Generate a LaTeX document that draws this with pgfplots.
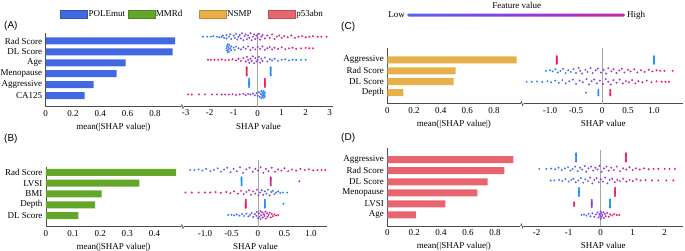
\documentclass[border=0pt]{standalone}
\usepackage{pgfplots}
\pgfplotsset{compat=1.18}
\usepackage{fontspec}
\setmainfont{Liberation Serif}
\newfontfamily\panelfont{Liberation Sans}
\definecolor{cA}{HTML}{4169E1}
\definecolor{cB}{HTML}{63A62A}
\definecolor{cC}{HTML}{E9B04A}
\definecolor{cD}{HTML}{E8646F}
\definecolor{cbBlue}{RGB}{30,140,250}
\definecolor{cbMid}{RGB}{140,60,225}
\definecolor{cbRed}{RGB}{250,20,90}
\pgfdeclarehorizontalshading{shapcb}{100bp}{color(0bp)=(cbBlue); color(50bp)=(cbMid); color(100bp)=(cbRed)}
\newcommand\fs{\fontsize{9}{10}\selectfont}
\pgfplotsset{
  colormap={shap}{rgb255=(30,140,250) rgb255=(140,60,225) rgb255=(250,20,90)},
  base/.style={scale only axis, axis line style={-, black!70, line width=0.6pt}, major tick length=0pt, tick style={draw=none}, ticklabel style={font=\fs}, label style={font=\fs}, /pgf/number format/assume math mode=true},
  barax/.style={base, ymin=-1, anchor=south west, axis x line*=bottom, axis y line*=left, xmin=0, xbar, bar width=7pt, xtick={0,0.2,0.4,0.6,0.8}, xticklabels={0,0.2,0.4,0.6,0.8}, xlabel={mean(|SHAP value|)}, clip=false},
  swax/.style={base, anchor=south west, axis x line*=bottom, axis y line=none, ymajorgrids, grid style={densely dotted, black!25}, yticklabels={}, xlabel={SHAP value}, colormap name=shap, point meta min=0, point meta max=1},
  swarm/.style={scatter, only marks, mark=*, mark size=1.1pt, point meta=explicit, scatter/use mapped color={draw opacity=0, fill=mapped color}},
}
\begin{document}
\begin{tikzpicture}
\path[use as bounding box] (0pt,0pt) rectangle (685pt,-250pt);

% ---------- legend ----------
\begin{axis}[at={(60pt,-14pt)}, anchor=west, hide axis, scale only axis, width=10pt, height=10pt, xmin=0, xmax=1, ymin=0, ymax=1,
  legend columns=4,
  legend style={at={(0,0.5)}, anchor=west, draw=none, fill=none, font=\fs, inner sep=0pt, nodes={inner sep=1pt}, column sep=0pt},
  legend image code/.code={\filldraw[#1] (0pt,-4pt) rectangle (27pt,4pt);}]
\addlegendimage{fill=cA, draw=cA!80!black, line width=0.3pt}
\addlegendentry{\makebox[38pt][l]{POLEmut}}
\addlegendimage{fill=cB, draw=cB!80!black, line width=0.3pt}
\addlegendentry{\makebox[42pt][l]{MMRd}}
\addlegendimage{fill=cC, draw=cC!80!black, line width=0.3pt}
\addlegendentry{\makebox[40pt][l]{NSMP}}
\addlegendimage{fill=cD, draw=cD!80!black, line width=0.3pt}
\addlegendentry{p53abn}
\end{axis}

% ---------- colorbar ----------
\node[font=\fs] at (516.7pt,-5pt) {Feature value};
\node[font=\fs, anchor=east, inner sep=1pt] at (406pt,-15pt) {Low};
\node[font=\fs, anchor=west, inner sep=1pt] at (626pt,-15pt) {High};
\shade[shading=shapcb, rounded corners=1.5pt] (407pt,-16.5pt) rectangle (625pt,-13.5pt);

% ---------- panel labels ----------
\node[font=\panelfont\fontsize{10}{11}\selectfont, anchor=west, inner sep=0pt] at (4pt,-26pt) {(A)};
\node[font=\panelfont\fontsize{10}{11}\selectfont, anchor=west, inner sep=0pt] at (341pt,-26.7pt) {(C)};
\node[font=\panelfont\fontsize{10}{11}\selectfont, anchor=west, inner sep=0pt] at (4pt,-139pt) {(B)};
\node[font=\panelfont\fontsize{10}{11}\selectfont, anchor=west, inner sep=0pt] at (341pt,-138.3pt) {(D)};

% ================= Panel A =================
\begin{axis}[barax, at={(45.7pt,-106.5pt)}, width=135.3pt, height=73.5pt, xmax=0.991, ymax=5.73,
  ytick={0,...,5}, yticklabels={CA125,Aggressive,Menopause,Age,DL Score,Rad Score}]
\addplot[draw=none, fill=cA] coordinates {(0.947,5) (0.930,4) (0.586,3) (0.520,2) (0.351,1) (0.285,0)};
\end{axis}
\begin{axis}[swax, at={(184pt,-106.5pt)}, width=149pt, height=73.5pt, xmin=-3.071, xmax=3.1375, ymin=-1.04, ymax=5.32,
  ytick={0,...,5}, xtick={-3,-2,-1,0,1,2,3}, xticklabels={-3,-2,-1,0,1,2,3}]
\draw[black!35, line width=0.8pt] (axis cs:0,-1.04) -- (axis cs:0,5.32);
\addplot[swarm] table[row sep=\\, meta=c] {x y c\\
-2.28 5 0.05\\ -2.1 5 0.05\\ -1.95 5 0.1\\ -1.85 5.05 0.1\\ -1.7 5 0.1\\ -1.6 4.95 0.1\\ -1.5 5 0.15\\ -1.45 5.1 0.15\\ -1.4 4.9 0.15\\ -1.3 5.15 0.2\\ -1.3 4.85 0.2\\ -1.2 5 0.2\\ -1.15 5.2 0.25\\ -1.1 4.8 0.25\\ -1.0 5.1 0.3\\ -0.95 4.9 0.3\\ -0.9 5.25 0.3\\ -0.85 4.75 0.35\\ -0.8 5 0.35\\ -0.75 5.15 0.35\\ -0.7 4.85 0.4\\ -0.65 5.3 0.4\\ -0.6 4.7 0.4\\ -0.55 5.05 0.45\\ -0.5 5.2 0.45\\ -0.45 4.8 0.45\\ -0.4 5.1 0.5\\ -0.35 4.9 0.5\\ -0.3 5.3 0.5\\ -0.25 4.7 0.5\\ -0.2 5 0.55\\ -0.15 5.2 0.55\\ -0.1 4.8 0.55\\ -0.05 5.1 0.6\\ 0 4.9 0.6\\ 0.05 5.25 0.6\\ 0.1 4.75 0.65\\ 0.15 5 0.65\\ 0.2 5.15 0.7\\ 0.3 4.85 0.7\\ 0.4 5.1 0.75\\ 0.5 4.9 0.75\\ 0.6 5.2 0.8\\ 0.7 4.8 0.8\\ 0.8 5 0.8\\ 0.9 5.1 0.85\\ 1.0 4.9 0.85\\ 1.1 5.05 0.85\\ 1.25 4.95 0.9\\ 1.4 5.1 0.9\\ 1.55 4.9 0.9\\ 1.7 5 0.95\\ 1.85 5.05 0.95\\ 2.0 4.95 0.95\\ 2.15 5 1\\ 2.3 5.05 1\\ 2.5 5 1\\ 2.65 5 1\\ 2.87 5 1\\
-1.3 4 0.1\\ -1.28 4.2 0.1\\ -1.28 3.8 0.1\\ -1.25 4.35 0.1\\ -1.25 3.65 0.1\\ -1.22 4.1 0.1\\ -1.22 3.9 0.1\\ -1.18 4.28 0.15\\ -1.18 3.72 0.15\\ -1.15 4 0.15\\ -1.1 4.15 0.15\\ -1.1 3.85 0.15\\ -1.0 4.05 0.2\\ -0.95 3.85 0.2\\ -0.9 4.15 0.25\\ -0.8 4 0.3\\ -0.7 3.9 0.3\\ -0.6 4.1 0.35\\ -0.5 3.95 0.4\\ -0.4 4.15 0.45\\ -0.3 3.85 0.5\\ -0.2 4.05 0.5\\ -0.1 3.9 0.55\\ 0 4.1 0.55\\ 0.1 3.95 0.6\\ 0.2 4.15 0.6\\ 0.3 3.85 0.65\\ 0.4 4 0.7\\ 0.5 4.1 0.7\\ 0.6 3.9 0.75\\ 0.7 4.05 0.75\\ 0.85 3.95 0.8\\ 1.0 4.08 0.85\\ 1.15 3.92 0.85\\ 1.3 4 0.9\\ 1.45 4.05 0.9\\ 1.6 3.95 0.95\\ 1.8 4 0.95\\ 2.0 4.03 1\\ 2.15 4 1\\ 2.3 4 1\\
-2.07 3 1\\ -1.95 3 1\\ -1.8 3 0.95\\ -1.65 3 0.95\\ -1.5 3.03 0.9\\ -1.35 2.97 0.9\\ -1.2 3 0.9\\ -1.05 3.05 0.85\\ -0.9 2.95 0.85\\ -0.8 3.1 0.8\\ -0.7 2.9 0.8\\ -0.6 3.15 0.75\\ -0.5 2.85 0.7\\ -0.45 3.25 0.7\\ -0.4 3 0.65\\ -0.35 2.75 0.65\\ -0.3 3.1 0.6\\ -0.25 2.9 0.6\\ -0.2 3.3 0.55\\ -0.15 2.7 0.55\\ -0.1 3.15 0.5\\ -0.05 2.85 0.5\\ 0 3 0.5\\ 0.05 3.25 0.45\\ 0.1 2.75 0.45\\ 0.15 3.1 0.4\\ 0.2 2.9 0.4\\ 0.3 3.2 0.35\\ 0.4 2.85 0.3\\ 0.5 3.05 0.3\\ 0.6 2.95 0.25\\ 0.7 3.1 0.2\\ 0.85 2.9 0.2\\ 1.0 3 0.15\\ 1.15 3.05 0.15\\ 1.3 2.95 0.1\\ 1.45 3 0.1\\ 1.6 3 0.1\\ 1.8 3 0.05\\ 2.0 3 0.05\\
-0.46 1.65 1\\ -0.46 1.75 1\\ -0.46 1.85 1\\ -0.46 1.95 1\\ -0.46 2.05 1\\ -0.46 2.15 1\\ -0.46 2.25 1\\ -0.46 2.35 1\\
0.54 1.65 0\\ 0.54 1.75 0\\ 0.54 1.85 0\\ 0.54 1.95 0\\ 0.54 2.05 0\\ 0.54 2.15 0\\ 0.54 2.25 0\\ 0.54 2.35 0\\
-0.36 0.65 0\\ -0.36 0.75 0\\ -0.36 0.85 0\\ -0.36 0.95 0\\ -0.36 1.05 0\\ -0.36 1.15 0\\ -0.36 1.25 0\\ -0.36 1.35 0\\
0.30 0.65 1\\ 0.30 0.75 1\\ 0.30 0.85 1\\ 0.30 0.95 1\\ 0.30 1.05 1\\ 0.30 1.15 1\\ 0.30 1.25 1\\ 0.30 1.35 1\\
-2.9 0 0.9\\ -2.75 0 0.9\\ -2.45 0 0.85\\ -2.2 0 0.8\\ -1.9 0 0.8\\ -1.7 0 0.75\\ -1.5 0 0.75\\ -1.35 0 0.7\\ -1.2 0 0.7\\ -1.05 0.03 0.65\\ -0.9 -0.03 0.65\\ -0.75 0 0.6\\ -0.6 0.05 0.6\\ -0.5 -0.05 0.55\\ -0.4 0.05 0.5\\ -0.3 0 0.45\\ -0.2 0.08 0.4\\ -0.12 -0.08 0.35\\ -0.05 0.12 0.3\\ 0.0 -0.12 0.25\\ 0.05 0.2 0.2\\ 0.08 -0.2 0.2\\ 0.12 0.05 0.15\\ 0.15 0.3 0.1\\ 0.15 -0.3 0.1\\ 0.18 -0.05 0.1\\ 0.2 0.2 0.05\\ 0.2 -0.2 0.05\\ 0.22 0.1 0.05\\ 0.24 -0.1 0.05\\ 0.25 0.3 0.05\\ 0.26 -0.3 0.05\\ 0.27 0 0.05\\ 0.3 0.15 0.05\\ 0.3 -0.15 0.05\\
};
\end{axis}
\draw[black!70, line width=0.6pt] (181pt,-106.5pt) -- (182pt,-104.5pt) -- (183pt,-108.5pt) -- (184pt,-106.5pt);

% ================= Panel C =================
\begin{axis}[barax, at={(387.3pt,-103.5pt)}, width=133.2pt, height=55.4pt, xmax=0.999, ymax=4.09,
  ytick={0,...,3}, yticklabels={Depth,DL Score,Rad Score,Aggressive}]
\addplot[draw=none, fill=cC] coordinates {(0.97,3) (0.513,2) (0.498,1) (0.12,0)};
\end{axis}
\begin{axis}[swax, at={(523.5pt,-103.5pt)}, width=159.5pt, height=55.4pt, xmin=-1.51, xmax=1.558, ymin=-1, ymax=4.09,
  ytick={0,...,3}, xtick={-1,-0.5,0,0.5,1}, xticklabels={-1.0,-0.5,0,0.5,1.0}]
\draw[black!35, line width=0.8pt] (axis cs:0,-1) -- (axis cs:0,4.09);
\addplot[swarm] table[row sep=\\, meta=c] {x y c\\
-0.87 2.65 1\\ -0.87 2.75 1\\ -0.87 2.85 1\\ -0.87 2.95 1\\ -0.87 3.05 1\\ -0.87 3.15 1\\ -0.87 3.25 1\\ -0.87 3.35 1\\
1.0 2.65 0\\ 1.0 2.75 0\\ 1.0 2.85 0\\ 1.0 2.95 0\\ 1.0 3.05 0\\ 1.0 3.15 0\\ 1.0 3.25 0\\ 1.0 3.35 0\\
-1.08 2 0.05\\ -1.0 2.05 0.05\\ -0.95 1.95 0.1\\ -0.9 2.15 0.1\\ -0.85 1.85 0.1\\ -0.8 2 0.15\\ -0.75 2.2 0.15\\ -0.7 1.8 0.15\\ -0.65 2.05 0.2\\ -0.6 1.9 0.2\\ -0.55 2.15 0.25\\ -0.5 1.8 0.25\\ -0.45 2.25 0.3\\ -0.42 2 0.3\\ -0.38 1.75 0.35\\ -0.32 2.1 0.35\\ -0.28 1.9 0.4\\ -0.22 2.25 0.4\\ -0.18 1.8 0.45\\ -0.12 2.05 0.45\\ -0.08 2.2 0.5\\ -0.02 1.85 0.5\\ 0.03 2.1 0.55\\ 0.08 1.75 0.55\\ 0.12 2.25 0.6\\ 0.18 1.95 0.6\\ 0.22 2.15 0.65\\ 0.28 1.8 0.65\\ 0.33 2.05 0.7\\ 0.38 2.2 0.7\\ 0.43 1.85 0.75\\ 0.5 2.1 0.75\\ 0.55 1.95 0.8\\ 0.62 2.15 0.8\\ 0.68 1.85 0.85\\ 0.75 2.05 0.85\\ 0.82 1.9 0.9\\ 0.9 2.1 0.9\\ 0.97 1.95 0.95\\ 1.05 2.05 0.95\\ 1.12 2 1\\ 1.2 2 1\\ 1.36 2 1\\
-1.45 1 0.05\\ -1.35 1 0.05\\ -1.25 1.03 0.1\\ -1.15 0.97 0.1\\ -1.05 1.05 0.1\\ -0.98 0.95 0.15\\ -0.9 1.1 0.15\\ -0.83 0.9 0.15\\ -0.76 1.15 0.2\\ -0.7 0.85 0.2\\ -0.63 1.05 0.25\\ -0.56 1.2 0.25\\ -0.5 0.8 0.3\\ -0.43 1.1 0.3\\ -0.37 0.95 0.35\\ -0.3 1.25 0.35\\ -0.25 0.75 0.4\\ -0.2 1.05 0.4\\ -0.15 1.2 0.45\\ -0.1 0.85 0.45\\ -0.04 1.1 0.5\\ 0.02 0.8 0.5\\ 0.07 1.25 0.55\\ 0.12 1 0.55\\ 0.17 0.75 0.6\\ 0.22 1.15 0.6\\ 0.28 0.9 0.65\\ 0.34 1.2 0.65\\ 0.4 0.85 0.7\\ 0.46 1.05 0.7\\ 0.52 0.95 0.75\\ 0.58 1.15 0.75\\ 0.64 0.85 0.8\\ 0.7 1.05 0.8\\ 0.78 0.95 0.85\\ 0.86 1.1 0.85\\ 0.95 0.95 0.9\\ 1.05 1.03 0.95\\ 1.15 1 1\\ 1.22 1 1\\ 1.29 1 1\\
-0.31 0 0\\
-0.07 -0.25 0\\ -0.07 -0.15 0\\ -0.07 -0.05 0\\ -0.07 0.05 0\\ -0.07 0.15 0\\ -0.07 0.25 0\\
0.16 -0.25 1\\ 0.16 -0.15 1\\ 0.16 -0.05 1\\ 0.16 0.05 1\\ 0.16 0.15 1\\ 0.16 0.25 1\\
};
\end{axis}
\draw[black!70, line width=0.6pt] (520.5pt,-103.5pt) -- (521.5pt,-101.5pt) -- (522.5pt,-105.5pt) -- (523.5pt,-103.5pt);

% ================= Panel B =================
\begin{axis}[barax, at={(46pt,-226.5pt)}, width=135pt, height=59.6pt, xmax=0.498, ymax=4.5,
  xtick={0,0.1,0.2,0.3,0.4}, xticklabels={0,0.1,0.2,0.3,0.4},
  ytick={0,...,4}, yticklabels={DL Score,Depth,BMI,LVSI,Rad Score}]
\addplot[draw=none, fill=cB] coordinates {(0.48,4) (0.344,3) (0.205,2) (0.181,1) (0.119,0)};
\end{axis}
\begin{axis}[swax, at={(184pt,-226.5pt)}, width=143pt, height=66.5pt, xmin=-1.396, xmax=1.302, ymin=-1.02, ymax=4.89,
  ytick={0,...,4}, xtick={-1,-0.5,0,0.5,1}, xticklabels={-1.0,-0.5,0,0.5,1.0}]
\draw[black!35, line width=0.8pt] (axis cs:0,-1.02) -- (axis cs:0,4.89);
\addplot[swarm] table[row sep=\\, meta=c] {x y c\\
-1.28 4 0.05\\ -1.2 4 0.05\\ -1.12 4.05 0.1\\ -1.05 3.95 0.1\\ -0.98 4.1 0.1\\ -0.9 3.9 0.15\\ -0.83 4 0.15\\ -0.76 4.15 0.2\\ -0.7 3.85 0.2\\ -0.64 4.05 0.25\\ -0.58 4.2 0.25\\ -0.52 3.8 0.3\\ -0.46 4.1 0.3\\ -0.4 3.9 0.35\\ -0.34 4.25 0.35\\ -0.28 3.75 0.4\\ -0.22 4.05 0.4\\ -0.16 4.2 0.45\\ -0.1 3.85 0.45\\ -0.05 4.1 0.5\\ 0 3.95 0.5\\ 0.05 4.25 0.55\\ 0.1 3.75 0.55\\ 0.15 4.1 0.6\\ 0.2 3.9 0.6\\ 0.26 4.2 0.65\\ 0.32 3.85 0.65\\ 0.38 4.05 0.7\\ 0.44 3.95 0.7\\ 0.5 4.15 0.75\\ 0.57 3.9 0.75\\ 0.64 4.05 0.8\\ 0.72 3.95 0.85\\ 0.8 4.1 0.85\\ 0.88 4 0.9\\ 0.96 4.05 0.9\\ 1.04 3.97 0.95\\ 1.12 4 1\\ 1.2 4 1\\ 1.27 4 1\\
-0.31 2.65 0\\ -0.31 2.75 0\\ -0.31 2.85 0\\ -0.31 2.95 0\\ -0.31 3.05 0\\ -0.31 3.15 0\\ -0.31 3.25 0\\ -0.31 3.35 0\\
0.24 2.65 0.8\\ 0.24 2.75 0.8\\ 0.24 2.85 0.8\\ 0.24 2.95 0.8\\ 0.24 3.05 0.8\\ 0.24 3.15 0.8\\ 0.24 3.25 0.8\\ 0.24 3.35 0.8\\
0.78 3 1\\
-1.37 2 1\\ -1.25 2 1\\ -1.12 2 0.95\\ -1.0 2 0.95\\ -0.9 2 0.95\\ -0.8 2.03 0.9\\ -0.7 1.97 0.9\\ -0.6 2.05 0.9\\ -0.52 1.95 0.85\\ -0.45 2.1 0.85\\ -0.38 1.9 0.8\\ -0.32 2.15 0.8\\ -0.27 1.85 0.75\\ -0.22 2.05 0.75\\ -0.17 2.2 0.7\\ -0.13 1.8 0.7\\ -0.09 2.1 0.65\\ -0.05 1.9 0.6\\ -0.02 2.25 0.55\\ 0.01 1.75 0.5\\ 0.04 2 0.45\\ 0.07 2.2 0.4\\ 0.1 1.8 0.35\\ 0.13 2.1 0.3\\ 0.16 1.9 0.3\\ 0.19 2.25 0.25\\ 0.22 1.75 0.25\\ 0.25 2.05 0.2\\ 0.28 2.15 0.2\\ 0.31 1.85 0.15\\ 0.34 2 0.15\\ 0.38 2.1 0.1\\ 0.42 1.95 0.1\\ 0.47 2 0.05\\ 0.55 2 0.05\\
-0.23 0.65 1\\ -0.23 0.75 1\\ -0.23 0.85 1\\ -0.23 0.95 1\\ -0.23 1.05 1\\ -0.23 1.15 1\\ -0.23 1.25 1\\ -0.23 1.35 1\\
0.13 0.65 0\\ 0.13 0.75 0\\ 0.13 0.85 0\\ 0.13 0.95 0\\ 0.13 1.05 0\\ 0.13 1.15 0\\ 0.13 1.25 0\\ 0.13 1.35 0\\
0.48 1 0\\
-0.56 0 0.05\\ -0.5 0.03 0.05\\ -0.45 -0.03 0.1\\ -0.4 0.05 0.1\\ -0.35 -0.05 0.15\\ -0.3 0.08 0.15\\ -0.26 -0.08 0.2\\ -0.22 0.12 0.2\\ -0.18 -0.12 0.25\\ -0.15 0.02 0.3\\ -0.12 0.18 0.3\\ -0.09 -0.18 0.35\\ -0.06 0.08 0.4\\ -0.03 -0.08 0.4\\ -0.02 0.28 0.45\\ 0 -0.28 0.45\\ 0.02 0.15 0.5\\ 0.03 -0.15 0.5\\ 0.05 0.35 0.55\\ 0.05 -0.35 0.55\\ 0.06 0 0.55\\ 0.08 0.22 0.6\\ 0.09 -0.22 0.6\\ 0.11 0.08 0.65\\ 0.12 -0.08 0.65\\ 0.14 0.3 0.7\\ 0.15 -0.3 0.7\\ 0.17 0.15 0.75\\ 0.18 -0.15 0.75\\ 0.2 0.02 0.8\\ 0.22 0.22 0.8\\ 0.24 -0.22 0.85\\ 0.26 0.1 0.85\\ 0.28 -0.1 0.9\\ 0.31 0.05 0.9\\ 0.34 -0.05 0.95\\ 0.38 0 1\\
};
\end{axis}
\draw[black!70, line width=0.6pt] (181pt,-226.5pt) -- (182pt,-224.5pt) -- (183pt,-228.5pt) -- (184pt,-226.5pt);

% ================= Panel D =================
\begin{axis}[barax, at={(387.3pt,-226pt)}, width=133.2pt, height=77.7pt, xmax=0.99, ymax=6.03,
  ytick={0,...,5}, yticklabels={Age,LVSI,Menopause,DL Score,Rad Score,Aggressive}]
\addplot[draw=none, fill=cD] coordinates {(0.937,5) (0.87,4) (0.746,3) (0.669,2) (0.431,1) (0.213,0)};
\end{axis}
\begin{axis}[swax, at={(523.5pt,-226pt)}, width=159.5pt, height=75.9pt, xmin=-2.4125, xmax=2.572, ymin=-0.95, ymax=5.63,
  ytick={0,...,5}, xtick={-2,-1,0,1,2}, xticklabels={-2,-1,0,1,2}]
\draw[black!35, line width=0.8pt] (axis cs:0,-0.95) -- (axis cs:0,5.63);
\addplot[swarm] table[row sep=\\, meta=c] {x y c\\
-0.77 4.65 0\\ -0.77 4.75 0\\ -0.77 4.85 0\\ -0.77 4.95 0\\ -0.77 5.05 0\\ -0.77 5.15 0\\ -0.77 5.25 0\\ -0.77 5.35 0\\
0.79 4.65 1\\ 0.79 4.75 1\\ 0.79 4.85 1\\ 0.79 4.95 1\\ 0.79 5.05 1\\ 0.79 5.15 1\\ 0.79 5.25 1\\ 0.79 5.35 1\\
-1.92 4 0.05\\ -1.7 4 0.05\\ -1.55 4.03 0.1\\ -1.42 3.97 0.1\\ -1.32 4.1 0.1\\ -1.22 3.9 0.15\\ -1.12 4.05 0.15\\ -1.02 4.15 0.2\\ -0.95 3.85 0.2\\ -0.88 4 0.2\\ -0.8 4.2 0.25\\ -0.72 3.8 0.25\\ -0.65 4.1 0.3\\ -0.58 3.95 0.3\\ -0.5 4.25 0.35\\ -0.45 3.75 0.35\\ -0.38 4.05 0.4\\ -0.3 4.2 0.4\\ -0.24 3.85 0.45\\ -0.17 4.1 0.45\\ -0.1 3.95 0.5\\ -0.04 4.25 0.5\\ 0.03 3.75 0.55\\ 0.1 4.05 0.55\\ 0.18 4.2 0.6\\ 0.25 3.85 0.6\\ 0.33 4.1 0.65\\ 0.41 3.9 0.65\\ 0.5 4.2 0.7\\ 0.6 3.8 0.7\\ 0.7 4.05 0.75\\ 0.8 3.95 0.75\\ 0.9 4.15 0.8\\ 1.0 3.9 0.8\\ 1.1 4.05 0.85\\ 1.22 3.95 0.85\\ 1.35 4.05 0.9\\ 1.5 3.97 0.9\\ 1.65 4 0.95\\ 1.8 4 0.95\\ 2.0 4 1\\ 2.15 4 1\\ 2.32 4 1\\
-1.56 3 0.05\\ -1.45 3 0.05\\ -1.3 3.05 0.1\\ -1.2 2.95 0.1\\ -1.1 3.1 0.1\\ -1.0 2.9 0.15\\ -0.92 3.05 0.15\\ -0.85 3.15 0.2\\ -0.78 2.85 0.2\\ -0.7 3 0.25\\ -0.62 3.2 0.25\\ -0.55 2.8 0.3\\ -0.48 3.1 0.3\\ -0.4 2.95 0.35\\ -0.33 3.25 0.35\\ -0.26 2.75 0.4\\ -0.2 3.05 0.4\\ -0.13 3.2 0.45\\ -0.06 2.85 0.45\\ 0 3.1 0.5\\ 0.07 2.9 0.5\\ 0.14 3.25 0.55\\ 0.21 2.75 0.55\\ 0.28 3.05 0.6\\ 0.36 3.15 0.6\\ 0.44 2.85 0.65\\ 0.52 3.05 0.65\\ 0.6 2.95 0.7\\ 0.7 3.15 0.7\\ 0.8 2.9 0.75\\ 0.9 3.05 0.75\\ 1.0 2.95 0.8\\ 1.12 3.1 0.85\\ 1.25 3 0.85\\ 1.4 3.03 0.9\\ 1.6 3 0.9\\ 1.8 3 0.95\\ 2.05 3 1\\ 2.27 3 1\\
-0.68 1.65 0\\ -0.68 1.75 0\\ -0.68 1.85 0\\ -0.68 1.95 0\\ -0.68 2.05 0\\ -0.68 2.15 0\\ -0.68 2.25 0\\ -0.68 2.35 0\\
0.45 1.65 1\\ 0.45 1.75 1\\ 0.45 1.85 1\\ 0.45 1.95 1\\ 0.45 2.05 1\\ 0.45 2.15 1\\ 0.45 2.25 1\\ 0.45 2.35 1\\
-0.83 0.8 1\\ -0.83 0.9 1\\ -0.83 1.0 1\\ -0.83 1.1 1\\
-0.28 0.7 0.55\\ -0.28 0.8 0.55\\ -0.28 0.9 0.55\\ -0.28 1.0 0.55\\ -0.28 1.1 0.55\\ -0.28 1.2 0.55\\ -0.28 1.3 0.55\\
0.29 0.65 0\\ 0.29 0.75 0\\ 0.29 0.85 0\\ 0.29 0.95 0\\ 0.29 1.05 0\\ 0.29 1.15 0\\ 0.29 1.25 0\\ 0.29 1.35 0\\
-0.6 0 0.05\\ -0.52 0.05 0.1\\ -0.45 -0.05 0.1\\ -0.38 0.1 0.15\\ -0.32 -0.1 0.2\\ -0.26 0.15 0.25\\ -0.2 -0.15 0.3\\ -0.15 0.05 0.35\\ -0.1 0.22 0.4\\ -0.07 -0.22 0.4\\ -0.04 0.08 0.45\\ -0.02 -0.08 0.45\\ 0 0.32 0.5\\ 0 -0.32 0.5\\ 0.02 0.15 0.5\\ 0.03 -0.15 0.55\\ 0.05 0 0.55\\ 0.08 0.25 0.6\\ 0.1 -0.25 0.6\\ 0.13 0.1 0.65\\ 0.16 -0.1 0.7\\ 0.2 0.18 0.75\\ 0.25 -0.15 0.8\\ 0.3 0.05 0.85\\ 0.36 -0.05 0.9\\ 0.42 0.08 0.9\\ 0.5 0 0.95\\ 0.58 0 1\\
};
\end{axis}
\draw[black!70, line width=0.6pt] (520.5pt,-226pt) -- (521.5pt,-224pt) -- (522.5pt,-228pt) -- (523.5pt,-226pt);
\end{tikzpicture}
\end{document}
